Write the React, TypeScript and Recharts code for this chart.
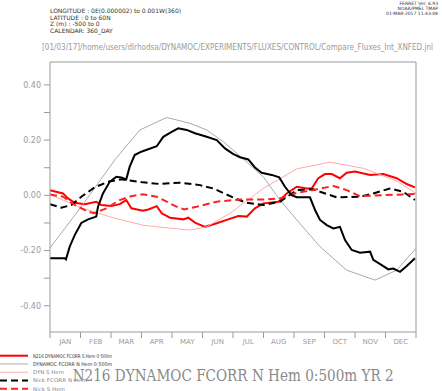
import React from 'react';
import {LineChart, Line, XAxis, YAxis} from 'recharts';

// months of a 360_DAY calendar
const months = ['JAN', 'FEB', 'MAR', 'APR', 'MAY', 'JUN', 'JUL', 'AUG', 'SEP', 'OCT', 'NOV', 'DEC'];
const monthTicks = [0, 30, 60, 90, 120, 150, 180, 210, 240, 270, 300, 330, 360];
const yTicks = [-0.4, -0.3, -0.2, -0.1, 0, 0.1, 0.2, 0.3, 0.4];

// N216 DYNAMOC FCORR N Hem 0:500m (black thick)
const nHemDays = [0, 14.5, 15.7, 19.4, 24.3, 30.8, 37.4, 45.5, 47.2, 52.1, 58.7, 65.2, 70.1, 75, 78.4, 83.3, 89.8, 105, 111.4, 119.7, 126.2, 134.5, 142.6, 154.1, 164, 172.1, 180, 186.9, 195, 201.6, 208.2, 218.1, 225.5, 231.1, 237.7, 242.7, 255.7, 260.7, 265.6, 272.2, 278.7, 285.2, 290.2, 296.8, 304.9, 314.8, 318, 326.3, 332.8, 337.7, 344.3, 350.9, 359];
const nHemVals = [-0.228, -0.228, -0.232, -0.186, -0.144, -0.100, -0.087, -0.077, -0.041, 0.007, 0.049, 0.067, 0.065, 0.058, 0.104, 0.146, 0.158, 0.178, 0.212, 0.230, 0.243, 0.237, 0.225, 0.212, 0.200, 0.170, 0.150, 0.138, 0.130, 0.101, 0.082, 0.074, 0.065, 0.031, 0.001, -0.007, -0.007, -0.053, -0.089, -0.108, -0.120, -0.114, -0.162, -0.198, -0.208, -0.204, -0.234, -0.253, -0.268, -0.265, -0.277, -0.256, -0.228];

// N216 DYNAMOC FCORR S Hem 0:500m (red thick)
const sHemDays = [0, 12.8, 17.7, 24.3, 34.1, 45.5, 50.5, 60.3, 68.6, 75, 80, 91.5, 96.7, 105, 109.9, 118, 131.1, 136, 142.6, 152.5, 164, 173.8, 185.2, 193.5, 201.6, 209.8, 224.6, 232.8, 242.7, 252.5, 257.4, 263.9, 270.5, 277.1, 285.2, 291.8, 300, 314.8, 327.8, 341, 350.9, 359];
const sHemVals = [0.019, 0.007, -0.011, -0.027, -0.032, -0.023, -0.035, -0.039, -0.032, -0.017, -0.047, -0.056, -0.051, -0.039, -0.065, -0.081, -0.087, -0.081, -0.099, -0.114, -0.101, -0.089, -0.075, -0.077, -0.047, -0.029, -0.023, 0.007, 0.031, 0.025, 0.025, 0.062, 0.077, 0.077, 0.062, 0.082, 0.086, 0.074, 0.077, 0.062, 0.041, 0.029];

// DYNAMOC FCORR N Hem 0:500m (grey thin)
const dynNDays = [0, 30.8, 47.2, 63.6, 88.5, 114.8, 137.7, 154.1, 170.5, 182, 209.8, 226.2, 242.7, 265.6, 291.8, 319.7, 341, 360];
const dynNVals = [-0.190, -0.041, 0.043, 0.128, 0.237, 0.282, 0.261, 0.237, 0.194, 0.158, 0.067, -0.017, -0.089, -0.186, -0.271, -0.307, -0.271, -0.192];

// DYN S Hem (pink thin)
const dynSDays = [0, 30.8, 63.6, 91.5, 105, 137.7, 154.1, 177, 209.8, 242.7, 275.4, 308.2, 341, 360];
const dynSVals = [0.003, -0.045, -0.083, -0.108, -0.114, -0.126, -0.114, -0.065, 0.025, 0.096, 0.120, 0.098, 0.052, 0.007];

// Nick FCORR N Hem (black dashed)
const nickNDays = [0, 11.1, 21, 30.8, 44, 57, 70.1, 91.5, 108.2, 127.9, 147.5, 160.6, 182, 193.5, 209.8, 226.2, 242.7, 259, 265.6, 282, 304.9, 318, 334.4, 347.5, 359];
const nickNVals = [-0.032, -0.045, -0.035, -0.005, 0.029, 0.049, 0.058, 0.047, 0.041, 0.046, 0.037, 0.025, -0.011, -0.027, -0.035, -0.023, 0.019, 0.022, 0.013, -0.007, -0.005, 0.007, 0.025, 0.013, -0.017];

// Nick S Hem (red dashed)
const nickSDays = [0, 12.8, 24.3, 37.4, 43.3, 55.4, 68.6, 80, 91.5, 105, 114.8, 124, 131.8, 144.3, 164, 186.9, 209.8, 226.2, 242.7, 259, 270.5, 278.7, 291.8, 304.9, 331.1, 359];
const nickSVals = [0.003, -0.005, -0.035, -0.059, -0.065, -0.047, -0.017, -0.003, 0.004, -0.005, -0.023, -0.040, -0.051, -0.041, -0.023, -0.015, -0.015, -0.011, 0.009, 0.019, 0.028, 0.034, 0.019, -0.003, 0.001, 0.005];

const toData = (days: number[], vals: number[]) => days.map((d, i) => ({day: d, v: vals[i]}));

const series = [
  {name: 'N216 DYNAMOC FCORR S Hem 0:500m', data: toData(sHemDays, sHemVals), color: '#ff0000', width: 2, dash: undefined, legendW: 79, text: '#333'},
  {name: 'DYNAMOC FCORR N Hem 0:500m', data: toData(dynNDays, dynNVals), color: '#aaaaaa', width: 1, dash: undefined, legendW: 79, text: '#333'},
  {name: 'DYN S Hem', data: toData(dynSDays, dynSVals), color: '#ffaaaa', width: 1, dash: undefined, legendW: 31, text: '#888'},
  {name: 'Nick FCORR N Hem', data: toData(nickNDays, nickNVals), color: '#000000', width: 2, dash: '7 4', legendW: 54, text: '#888'},
  {name: 'Nick S Hem', data: toData(nickSDays, nickSVals), color: '#ff2020', width: 2, dash: '7 4', legendW: 32, text: '#888'},
];
const mainSeries = {name: 'N216 DYNAMOC FCORR N Hem 0:500m YR 2', data: toData(nHemDays, nHemVals)};

const headerLines = ['LONGITUDE : 0E(0.000002) to 0.001W(360)', 'LATITUDE : 0 to 60N', 'Z (m) : -500 to 0', 'CALENDAR: 360_DAY'];
const stampLines = ['FERRET Ver. 6.93', 'NOAA/PMEL TMAP', '01-MAR-2017 11:43:08'];
const pathText = '[01/03/17]/home/users/dlrhodsa/DYNAMOC/EXPERIMENTS/FLUXES/CONTROL/Compare_Fluxes_Int_XNFED.jnl';

const axisGrey = '#9a9a9a';
const font = '"DejaVu Sans", sans-serif';
const halfMonthPx = 366 / 24;

const MonthTick = (props: any) => {
  const {x, y, index} = props;
  if (index >= 12) return null;
  return (
    <text x={x + halfMonthPx} y={y} dy="0.71em" textAnchor="middle" fontSize={7} fill={axisGrey} fontFamily={font}>
      {months[index] ?? ''}
    </text>
  );
};

const ValueTick = (props: any) => {
  const {x, y, payload} = props;
  const v = payload.value;
  const r = Math.round(v * 10);
  if (r % 2 !== 0) return null;
  return (
    <text x={x} y={y} dy="0.35em" textAnchor="end" fontSize={8} fill={axisGrey} fontFamily={font}>
      {v.toFixed(2)}
    </text>
  );
};

export default function App() {
  return (
    <div style={{position: 'absolute', left: 0, top: 0, width: 442, height: 391, background: '#fff'}}>
      <LineChart width={442} height={391} margin={{top: 52, right: 16, bottom: 39, left: 10}}>
        <XAxis xAxisId="b" type="number" dataKey="day" domain={[0, 360]} ticks={monthTicks} height={20}
               allowDataOverflow stroke={axisGrey} tickSize={6} tickMargin={1} tick={<MonthTick />} interval={0} />
        <XAxis xAxisId="t" orientation="top" type="number" dataKey="day" domain={[0, 360]} ticks={monthTicks} height={10}
               allowDataOverflow stroke={axisGrey} tickSize={5} tick={false} interval={0} />
        <YAxis yAxisId="l" type="number" domain={[-0.495, 0.483]} ticks={yTicks} width={40} allowDataOverflow
               stroke={axisGrey} tickSize={6} tickMargin={3} tick={<ValueTick />} interval={0} />
        <YAxis yAxisId="r" orientation="right" type="number" domain={[-0.495, 0.483]} ticks={yTicks} width={10}
               allowDataOverflow stroke={axisGrey} tickSize={5} tick={false} interval={0} />
        {series.map(s => (
          <Line key={s.name} xAxisId="b" yAxisId="l" data={s.data} dataKey="v" name={s.name} type="linear"
                stroke={s.color} strokeWidth={s.width} strokeDasharray={s.dash} dot={false} isAnimationActive={false} />
        ))}
        <Line xAxisId="b" yAxisId="l" data={mainSeries.data} dataKey="v" name={mainSeries.name} type="linear"
              stroke="#000" strokeWidth={2} dot={false} isAnimationActive={false} />
      </LineChart>
      <svg width={442} height={391} style={{position: 'absolute', left: 0, top: 0, pointerEvents: 'none'}}>
        {headerLines.map((t, i) => (
          <text key={t} x={50} y={13 + i * 6.5} fontSize={6} fill="#333" fontFamily={font}>{t}</text>
        ))}
        {stampLines.map((t, i) => (
          <text key={t} x={438} y={5 + i * 5} fontSize={4.5} fill="#333" fontFamily={font} textAnchor="end">{t}</text>
        ))}
        <text x={42} y={50} fontSize={9} fill={axisGrey} fontFamily={font} textLength={391} lengthAdjust="spacingAndGlyphs">{pathText}</text>
        {series.map((s, i) => {
          const y = 355.7 + i * 8.25;
          return (
            <g key={s.name}>
              <line x1={0} x2={28} y1={y} y2={y} stroke={s.color} strokeWidth={s.width} strokeDasharray={s.dash} />
              <text x={33} y={y + 1.8} fontSize={5} fill={s.text} fontFamily={font} textLength={s.legendW} lengthAdjust="spacingAndGlyphs">{s.name}</text>
            </g>
          );
        })}
        <text x={72.7} y={380.7} fontSize={17} fill="#8a8a8a" fontFamily='"DejaVu Serif", "Liberation Serif", serif'
              textLength={321} lengthAdjust="spacingAndGlyphs">{mainSeries.name}</text>
      </svg>
    </div>
  );
}
